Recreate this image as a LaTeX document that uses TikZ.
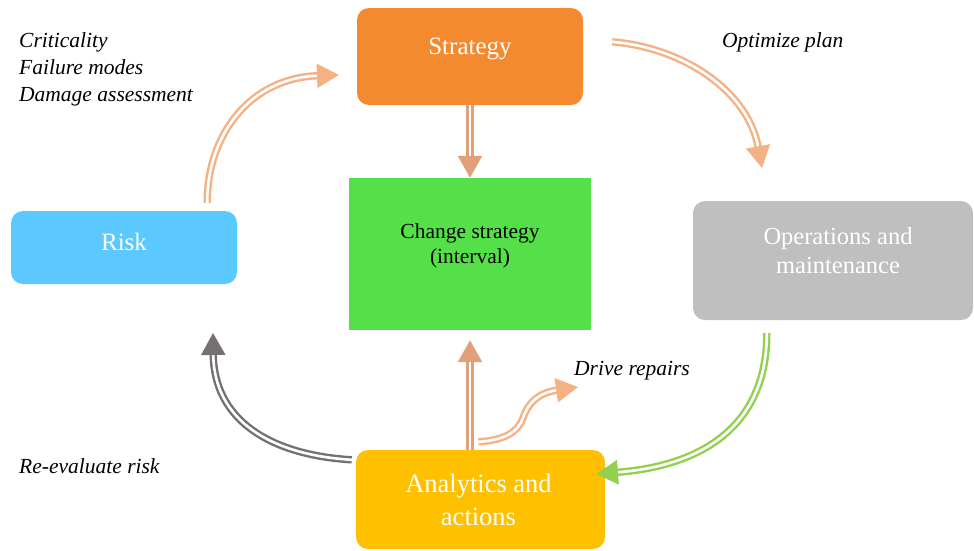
\documentclass[tikz,border=0pt]{standalone}
\usepackage{fontspec}
\setmainfont{Liberation Serif}
\usetikzlibrary{arrows.meta,calc}
\definecolor{cStrat}{HTML}{F48A2F}
\definecolor{cRisk}{HTML}{5BC9FF}
\definecolor{cChange}{HTML}{55E04A}
\definecolor{cOps}{HTML}{BFBFBF}
\definecolor{cAna}{HTML}{FFC000}
\definecolor{cPeach}{HTML}{F4B183}
\definecolor{cTan}{HTML}{E0A07A}
\definecolor{cGray}{HTML}{767171}
\definecolor{cGreen}{HTML}{92D050}
\tikzset{
  box/.style={rounded corners=12pt, inner sep=0pt},
  boxtext/.style={inner sep=0pt, align=center, text=white},
  lbl/.style={inner sep=0pt, align=left, font=\fontsize{21.5}{27}\selectfont\itshape, anchor=west},
  dbl/.style={draw=#1, line width=2.4pt, double=white, double distance=2.6pt,
    -{Triangle[length=22pt,width=24pt,fill=#1]}},
}
\begin{document}
\begin{tikzpicture}[x=1pt,y=-1pt]
\useasboundingbox (0,0) rectangle (974,550);
% boxes
\node[box, fill=cStrat, minimum width=226pt, minimum height=97pt,
  label={[boxtext, yshift=7.5pt, font=\fontsize{25}{31}\selectfont]center:Strategy}] (strat) at (470,56.5) {};
\node[box, fill=cRisk, minimum width=226pt, minimum height=73pt,
  label={[boxtext, yshift=5.5pt, font=\fontsize{25}{31}\selectfont]center:Risk}] (risk) at (124,247.5) {};
\node[box, rounded corners=0pt, fill=cChange, minimum width=242pt, minimum height=152pt,
  label={[boxtext, text=black, yshift=8pt, font=\fontsize{21.5}{25}\selectfont]center:Change strategy\\(interval)}] (change) at (470,254) {};
\node[box, fill=cOps, minimum width=280pt, minimum height=119pt,
  label={[boxtext, xshift=5pt, yshift=9.5pt, font=\fontsize{24.5}{29}\selectfont]center:Operations and\\maintenance}] (ops) at (833,260.5) {};
\node[box, fill=cAna, minimum width=249pt, minimum height=99pt,
  label={[boxtext, xshift=-2pt, yshift=0pt, font=\fontsize{26.5}{33}\selectfont]center:Analytics and\\actions}] (ana) at (480.5,499.5) {};
% labels
\node[lbl] (crit) at (19,69) {Criticality\\Failure modes\\Damage assessment};
\node[lbl] (opt) at (722,42) {Optimize plan};
\node[lbl] (drive) at (574,371) {Drive repairs};
\node[lbl] (reeval) at (19,466) {Re-evaluate risk};
% free ends
\coordinate (e1) at (339,75);
\coordinate (e2) at (762,168);
\coordinate (e5) at (578,387);
\coordinate (e6) at (596,474);
\coordinate (e7) at (213,333);
% connectors
\draw[dbl=cPeach] ($(risk.north east)+(-30,-8)$) .. controls (207,135) and (250,78) .. (e1);
\draw[dbl=cPeach] ($(strat.north east)+(29,34)$) .. controls (685,48) and (748,92) .. (e2);
\draw[dbl=cTan] (strat.south) -- (change.north);
\draw[dbl=cTan] (ana.north -| change.south) -- ($(change.south)+(0,10)$);
\draw[dbl=cPeach] ($(ana.north)+(-2,-8)$) .. controls (505,440) and (518,432) .. (523,418) .. controls (528,403) and (538,393) .. (e5);
\draw[dbl=cGreen] ($(ops.south west)+(74,13)$) .. controls (767,420) and (710,465) .. (e6);
\draw[dbl=cGray] ($(ana.north west)+(-4,10)$) .. controls (270,455) and (214,420) .. (e7);
\end{tikzpicture}
\end{document}
